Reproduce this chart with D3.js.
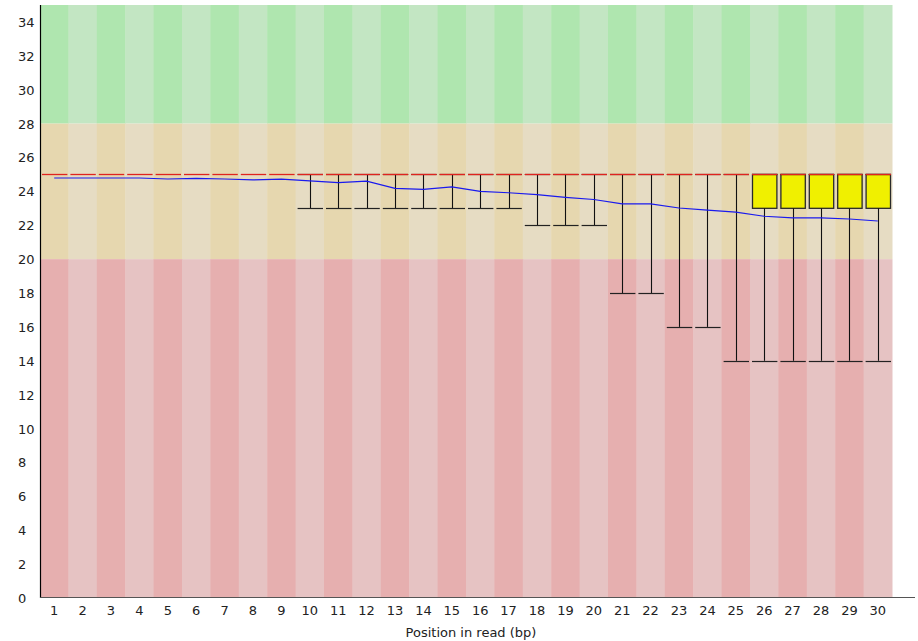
<!DOCTYPE html>
<html>
<head>
<meta charset="utf-8">
<script src="https://cdn.jsdelivr.net/npm/d3@7"></script>
<style>
  html, body { margin: 0; padding: 0; background: #ffffff; }
  svg { display: block; }
  text { font-family: "DejaVu Sans", sans-serif; font-size: 13px; fill: #222; }
</style>
</head>
<body>
<svg id="chart" width="918" height="641"></svg>
<script>
// Per-base sequence quality, positions 1..30
const positions = d3.range(1, 31);
const means = [24.79, 24.79, 24.79, 24.79, 24.73, 24.77, 24.73, 24.68, 24.72, 24.62,
               24.52, 24.60, 24.18, 24.12, 24.26, 24.00, 23.92, 23.81, 23.65, 23.52,
               23.26, 23.26, 23.02, 22.89, 22.77, 22.53, 22.43, 22.43, 22.37, 22.25];
const medians = Array(30).fill(25);
const upperQuartiles = Array(30).fill(25);
const lowerQuartiles = [25, 25, 25, 25, 25, 25, 25, 25, 25, 25,
                        25, 25, 25, 25, 25, 25, 25, 25, 25, 25,
                        25, 25, 25, 25, 25, 23, 23, 23, 23, 23];
const upperWhiskers = Array(30).fill(25);
const lowerWhiskers = [25, 25, 25, 25, 25, 25, 25, 25, 25, 23,
                       23, 23, 23, 23, 23, 23, 23, 22, 22, 22,
                       18, 18, 16, 16, 14, 14, 14, 14, 14, 14];
const yTicks = d3.range(0, 35, 2);
// Quality bands: [from, to, dark colour, light colour]
const bands = [
  [28, 35, "#afe6af", "#c3e6c3"],
  [20, 28, "#e6d7af", "#e6dcc3"],
  [0, 20, "#e6afaf", "#e6c3c3"]
];

const svg = d3.select("#chart");
const plotLeft = 40, plotRight = 892, plotTop = 5, plotBottom = 598;

const x = d3.scaleBand().domain(positions).range([plotLeft, plotRight]).paddingInner(0).paddingOuter(0);
const y = d3.scaleLinear().domain([0, 35]).range([plotBottom, plotTop]);

// Alternating striped background for each quality band
bands.forEach(([lo, hi, dark, light]) => {
  svg.append("g").selectAll("rect").data(positions).join("rect")
    .attr("x", d => x(d))
    .attr("width", x.bandwidth() + 0.5)
    .attr("y", y(hi))
    .attr("height", y(lo) - y(hi))
    .attr("fill", (d, i) => i % 2 === 0 ? dark : light);
});

const bw = x.bandwidth();
const inset = 2;
const data = positions.map((p, i) => ({
  p, mean: means[i], med: medians[i], uq: upperQuartiles[i], lq: lowerQuartiles[i],
  uw: upperWhiskers[i], lw: lowerWhiskers[i]
}));

const boxes = svg.append("g");
// Boxes
boxes.selectAll("rect.box").data(data.filter(d => d.uq !== d.lq)).join("rect")
  .attr("class", "box")
  .attr("x", d => x(d.p) + inset + 0.5)
  .attr("width", bw - 2 * inset)
  .attr("y", d => y(d.uq))
  .attr("height", d => y(d.lq) - y(d.uq))
  .attr("fill", "#f0f000")
  .attr("stroke", "#2a2a2a")
  .attr("stroke-width", 1.3);

// Lower whiskers
const lowW = data.filter(d => d.lw !== d.lq);
boxes.selectAll("line.wl").data(lowW).join("line")
  .attr("x1", d => Math.round(x(d.p) + bw / 2) + 0.5)
  .attr("x2", d => Math.round(x(d.p) + bw / 2) + 0.5)
  .attr("y1", d => y(d.lq))
  .attr("y2", d => y(d.lw))
  .attr("stroke", "#111").attr("stroke-width", 1.1);
boxes.selectAll("line.cl").data(lowW).join("line")
  .attr("x1", d => x(d.p) + inset)
  .attr("x2", d => x(d.p) + bw - inset + 1)
  .attr("y1", d => Math.round(y(d.lw)) + 0.5)
  .attr("y2", d => Math.round(y(d.lw)) + 0.5)
  .attr("stroke", "#222").attr("stroke-width", 1.2);

// Upper whisker caps
boxes.selectAll("line.cu").data(data.filter(d => d.lw !== d.lq || d.uq !== d.lq)).join("line")
  .attr("x1", d => x(d.p) + inset)
  .attr("x2", d => x(d.p) + bw - inset + 1)
  .attr("y1", d => Math.round(y(d.uw)) + 0.5)
  .attr("y2", d => Math.round(y(d.uw)) + 0.5)
  .attr("stroke", "#222").attr("stroke-width", 1.2);

// Medians
boxes.selectAll("line.med").data(data).join("line")
  .attr("x1", d => x(d.p) + inset)
  .attr("x2", d => x(d.p) + bw - inset + 1)
  .attr("y1", d => Math.round(y(d.med)) + 0.5)
  .attr("y2", d => Math.round(y(d.med)) + 0.5)
  .attr("stroke", "#e0231f").attr("stroke-width", 1.3);

// Mean line
svg.append("path")
  .datum(data)
  .attr("fill", "none")
  .attr("stroke", "#1a1aee")
  .attr("stroke-width", 1.2)
  .attr("d", d3.line().x(d => x(d.p) + bw / 2).y(d => y(d.mean)));

// Axes
svg.append("line")
  .attr("x1", plotLeft + 0.5).attr("x2", plotLeft + 0.5)
  .attr("y1", plotTop).attr("y2", plotBottom)
  .attr("stroke", "#000").attr("stroke-width", 1.2);
svg.append("line")
  .attr("x1", plotLeft).attr("x2", 915)
  .attr("y1", plotBottom - 0.5).attr("y2", plotBottom - 0.5)
  .attr("stroke", "#555").attr("stroke-width", 1.2);

// Y tick labels
svg.append("g").selectAll("text").data(yTicks).join("text")
  .attr("x", 18)
  .attr("y", d => y(d) + 5)
  .text(d => d);

// X tick labels
svg.append("g").selectAll("text").data(positions).join("text")
  .attr("x", d => x(d) + bw / 2)
  .attr("y", 615)
  .attr("text-anchor", "middle")
  .text(d => d);

svg.append("text")
  .attr("x", 471).attr("y", 637)
  .attr("text-anchor", "middle")
  .text("Position in read (bp)");
</script>
</body>
</html>
